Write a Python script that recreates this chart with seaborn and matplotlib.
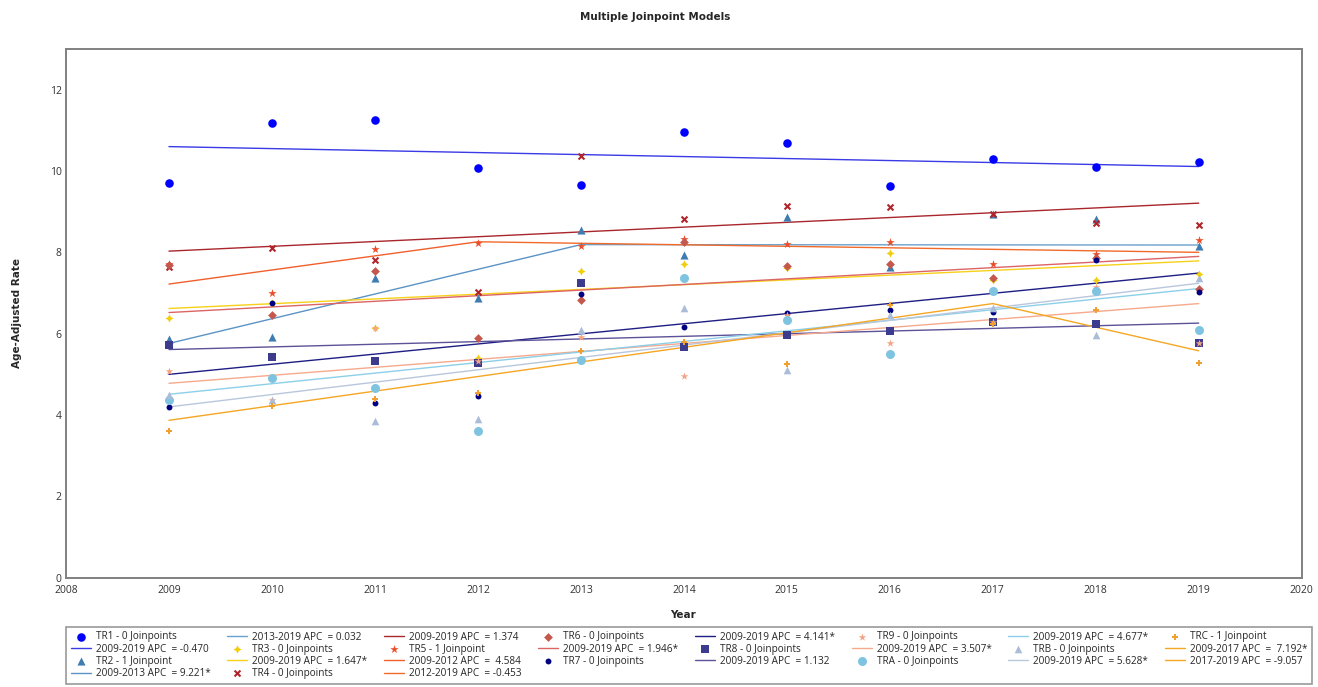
import matplotlib
matplotlib.use("Agg")
import matplotlib.pyplot as plt
import seaborn as sns
import pandas as pd

sns.set_style("white")
plt.rcParams['font.family'] = ['Open Sans', 'DejaVu Sans']

# ---------------- data ----------------
years = [2009, 2010, 2011, 2012, 2013, 2014, 2015, 2016, 2017, 2018, 2019]

tr1 = [9.71, 11.17, 11.25, 10.08, 9.66, 10.95, 10.69, 9.62, 10.29, 10.11, 10.23]
tr2 = [5.87, 5.92, 7.37, 6.88, 8.56, 7.93, 8.88, 7.64, 8.94, 8.83, 8.15]
tr3 = [6.39, 6.76, 6.13, 5.41, 7.54, 7.72, 7.62, 7.99, 7.32, 7.31, 7.46]
tr4 = [7.63, 8.10, 7.82, 7.03, 10.37, 8.81, 9.15, 9.12, 8.94, 8.71, 8.67]
tr5 = [7.72, 7.01, 8.09, 8.24, 8.16, 8.34, 8.20, 8.25, 7.72, 7.95, 8.30]
tr6 = [7.70, 6.45, 7.54, 5.90, 6.82, 8.26, 7.66, 7.72, 7.38, 7.85, 7.11]
tr7 = [4.20, 6.76, 4.30, 4.47, 6.98, 6.17, 6.50, 6.59, 6.53, 7.81, 7.03]
tr8 = [5.71, 5.42, 5.33, 5.29, 7.24, 5.68, 5.96, 6.06, 6.29, 6.23, 5.78]
tr9 = [5.09, 4.38, 6.13, 5.33, 5.92, 4.95, 6.47, 5.76, 6.29, 7.15, 5.78]
tra = [4.38, 4.90, 4.67, 3.60, 5.35, 7.37, 6.33, 5.50, 7.06, 7.04, 6.10]
trb = [4.49, 4.38, 3.85, 3.91, 6.10, 6.62, 5.10, 6.47, 6.64, 5.96, 7.38]
trc = [3.60, 4.22, 4.40, 4.55, 5.58, 5.80, 5.25, 6.70, 6.25, 6.58, 5.29]

# fitted joinpoint segments (start year, end year) and modelled values at them
tr1_fit_years, tr1_fit = [2009, 2019], [10.60, 10.11]
tr2_fit1_years, tr2_fit1 = [2009, 2013], [5.76, 8.19]
tr2_fit2_years, tr2_fit2 = [2013, 2019], [8.19, 8.18]
tr3_fit_years, tr3_fit = [2009, 2019], [6.62, 7.79]
tr4_fit_years, tr4_fit = [2009, 2019], [8.03, 9.21]
tr5_fit1_years, tr5_fit1 = [2009, 2012], [7.22, 8.26]
tr5_fit2_years, tr5_fit2 = [2012, 2019], [8.26, 8.00]
tr6_fit_years, tr6_fit = [2009, 2019], [6.52, 7.90]
tr7_fit_years, tr7_fit = [2009, 2019], [5.00, 7.49]
tr8_fit_years, tr8_fit = [2009, 2019], [5.61, 6.26]
tr9_fit_years, tr9_fit = [2009, 2019], [4.78, 6.74]
tra_fit_years, tra_fit = [2009, 2019], [4.51, 7.11]
trb_fit_years, trb_fit = [2009, 2019], [4.20, 7.24]
trc_fit1_years, trc_fit1 = [2009, 2017], [3.87, 6.74]
trc_fit2_years, trc_fit2 = [2017, 2019], [6.74, 5.58]

x_ticks = [2008, 2009, 2010, 2011, 2012, 2013, 2014, 2015, 2016, 2017, 2018, 2019, 2020]
y_ticks = [0, 2, 4, 6, 8, 10, 12]

# ---------------- plot ----------------
fig = plt.figure(figsize=(13.18, 6.87), dpi=100)
ax = fig.add_axes([66 / 1318, 1 - 577.7 / 687, (1301.7 - 66) / 1318, (577.7 - 49) / 687])

handles, labels = [], []

def pts(vals, label, color, marker, size, lw=0, ec=None):
    df = pd.DataFrame({"year": years, "rate": vals})
    sns.scatterplot(data=df, x="year", y="rate", ax=ax, color=color, marker=marker,
                    s=size, linewidth=lw, edgecolor=ec if ec else color, zorder=3,
                    legend=False)
    h = ax.collections[-1]
    handles.append(h)
    labels.append(label)

def seg(yrs, vals, label, color, lw=1.0):
    df = pd.DataFrame({"year": yrs, "rate": vals})
    sns.lineplot(data=df, x="year", y="rate", ax=ax, color=color, linewidth=lw,
                 legend=False, zorder=2)
    h = ax.lines[-1]
    handles.append(h)
    labels.append(label)

star4 = (4, 1, 0)

pts(tr1, "TR1 - 0 Joinpoints", "#0000ff", "o", 38)
seg(tr1_fit_years, tr1_fit, "2009-2019 APC  = -0.470", "#3a3ae6")
pts(tr2, "TR2 - 1 Joinpoint", "#3f7cb0", "^", 34)
seg(tr2_fit1_years, tr2_fit1, "2009-2013 APC  = 9.221*", "#5b93c4")
seg(tr2_fit2_years, tr2_fit2, "2013-2019 APC  = 0.032", "#6aa0cc")
pts(tr3, "TR3 - 0 Joinpoints", "#f2cf0c", star4, 34)
seg(tr3_fit_years, tr3_fit, "2009-2019 APC  = 1.647*", "#f7d117")
pts(tr4, "TR4 - 0 Joinpoints", "#b0242a", "x", 18, lw=1.5)
seg(tr4_fit_years, tr4_fit, "2009-2019 APC  = 1.374", "#a8262c")
pts(tr5, "TR5 - 1 Joinpoint", "#ea4e2a", "*", 40)
seg(tr5_fit1_years, tr5_fit1, "2009-2012 APC  =  4.584", "#f0602c")
seg(tr5_fit2_years, tr5_fit2, "2012-2019 APC  = -0.453", "#f26a2a")
pts(tr6, "TR6 - 0 Joinpoints", "#c4584c", "D", 20)
seg(tr6_fit_years, tr6_fit, "2009-2019 APC  = 1.946*", "#dc6464")
pts(tr7, "TR7 - 0 Joinpoints", "#000080", "o", 18)
seg(tr7_fit_years, tr7_fit, "2009-2019 APC  = 4.141*", "#1e1e84")
pts(tr8, "TR8 - 0 Joinpoints", "#3d3b8e", "s", 32)
seg(tr8_fit_years, tr8_fit, "2009-2019 APC  = 1.132", "#5c5297")
pts(tr9, "TR9 - 0 Joinpoints", "#f4a486", "*", 34)
seg(tr9_fit_years, tr9_fit, "2009-2019 APC  = 3.507*", "#f6a98c")
pts(tra, "TRA - 0 Joinpoints", "#7ec4e0", "o", 42)
seg(tra_fit_years, tra_fit, "2009-2019 APC  = 4.677*", "#8ccfe8")
pts(trb, "TRB - 0 Joinpoints", "#a9bcd8", "^", 30)
seg(trb_fit_years, trb_fit, "2009-2019 APC  = 5.628*", "#b9c7dc")
pts(trc, "TRC - 1 Joinpoint", "#f0a030", "P", 24)
seg(trc_fit1_years, trc_fit1, "2009-2017 APC  =  7.192*", "#f5a623")
seg(trc_fit2_years, trc_fit2, "2017-2019 APC  = -9.057", "#f5a623")

ax.set_xlim(2008, 2020)
ax.set_ylim(0, 13)
ax.set_xticks(x_ticks)
ax.set_xticklabels([str(t) for t in x_ticks])
ax.set_yticks(y_ticks)
ax.set_yticklabels([str(t) for t in y_ticks])
ax.tick_params(axis="both", length=0, labelsize=7.5, colors="#333333")
ax.tick_params(axis="x", pad=5)
ax.tick_params(axis="y", pad=3)
ax.set_xlabel("")
ax.set_ylabel("")
for sp in ax.spines.values():
    sp.set_color("#808080")
    sp.set_linewidth(1.4)

fig.text(655 / 1318, 1 - 17 / 687, "Multiple Joinpoint Models", ha="center", va="center",
         fontsize=7.5, fontweight="bold", family=["DejaVu Sans"])
fig.text(683 / 1318, 1 - 615 / 687, "Year", ha="center", va="center",
         fontsize=7.5, fontweight="bold", family=["DejaVu Sans"])
fig.text(17 / 1318, 1 - 313 / 687, "Age-Adjusted Rate", ha="center", va="center",
         rotation=90, fontsize=7.5, fontweight="bold", family=["DejaVu Sans"])

leg = fig.legend(handles, labels, ncol=8, loc="upper left",
                 bbox_to_anchor=(66 / 1318, 1 - 627 / 687, (1312 - 66) / 1318, 0.0),
                 mode="expand", fontsize=7.2, frameon=True, fancybox=False,
                 borderpad=0.45, labelspacing=0.12, handlelength=2.0,
                 handletextpad=0.5, columnspacing=0.8, borderaxespad=0.0,
                 scatterpoints=1)
leg.get_frame().set_edgecolor("#808080")
leg.get_frame().set_linewidth(1.2)

fig.savefig("out.png", dpi=100)
